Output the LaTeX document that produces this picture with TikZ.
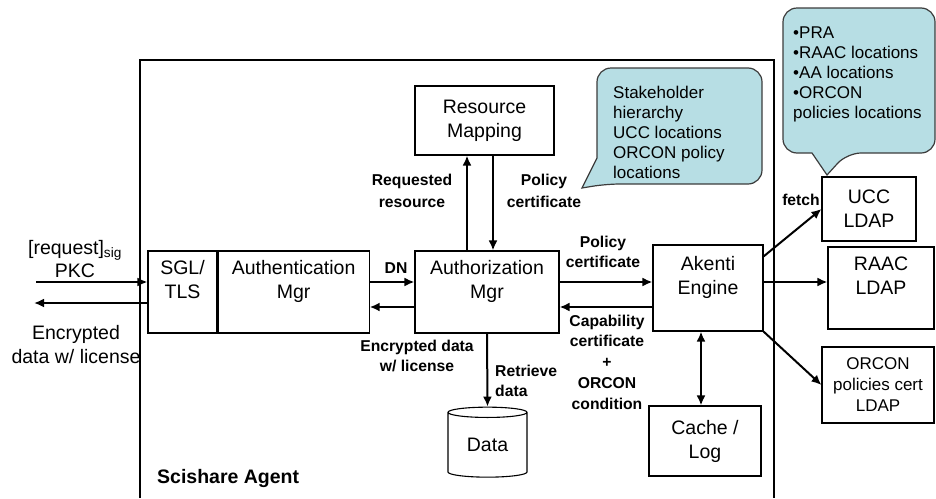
\documentclass[tikz,border=0pt]{standalone}
\usepackage{fontspec}
\setmainfont{Liberation Sans}
\usetikzlibrary{arrows.meta,positioning,shapes.geometric}
\definecolor{notefill}{RGB}{183,222,228}
\definecolor{noteline}{RGB}{60,60,60}
\tikzset{
	>={Latex[length=10pt,width=9pt]},
	frame/.style={
		rectangle, draw, line width=1.1pt,
		align=center, inner sep=0pt,
		font=\fontsize{19.5}{24}\selectfont,
	},
	raised/.style={text depth=25pt},
	line/.style={
		draw, ->, line width=2pt,
	},
	tag/.style={font=\fontsize{15.7}{20}\selectfont\bfseries, align=center, inner sep=0pt},
	big/.style={font=\fontsize{19.5}{23}\selectfont, align=center, inner sep=0pt},
	note/.style={fill=notefill, draw=noteline, line width=1.2pt},
	notetext/.style={font=\fontsize{17}{20}\selectfont, align=left, inner sep=0pt, anchor=north west},
}

\begin{document}
\begin{tikzpicture}[x=1pt,y=-1pt]
\useasboundingbox (0,0) rectangle (936,498);

% agent frame, open at the bottom
\draw[line width=1.3pt] (140,498) |- (774,60) -- (774,498);
\node[font=\fontsize{19.5}{23}\selectfont\bfseries, anchor=west, inner sep=0pt] (agent) at (157,478) {Scishare Agent};

% callouts
\filldraw[note] (582,188) -- (597,158) [rounded corners=14pt] -- (597,68) -- (762,68) -- (762,184) -- (606,184) [sharp corners] -- cycle;
\node[notetext] (stakenote) at (613,86) {Stakeholder\\hierarchy\\UCC locations\\ORCON policy\\locations};
\filldraw[note] (827,175) -- (812,153) [rounded corners=14pt] -- (783,153) -- (783,8) -- (935,8) -- (935,153) -- (847,153) [sharp corners] -- cycle;
\node[notetext] (ldapnote) at (793,27) {•PRA\\•RAAC locations\\•AA locations\\•ORCON\\policies locations};

% boxes
\node[frame, raised, minimum width=69pt, minimum height=82pt] (sgl) at (182.5,292) {SGL/\\TLS};
\node[frame, raised, minimum width=151pt, minimum height=82pt, right=0pt of sgl] (auth) {Authentication\\Mgr};
\node[frame, raised, minimum width=144pt, minimum height=82pt] (authz) at (487,292) {Authorization\\Mgr};
\node[frame, minimum width=139pt, minimum height=69pt] (resmap) at (484.5,120.5) {Resource\\Mapping};
\node[frame, raised, minimum width=110pt, minimum height=86pt] (akenti) at (708,288) {Akenti\\Engine};
\node[frame, minimum width=112pt, minimum height=70pt] (cache) at (705,441) {Cache /\\Log};
\node[frame, minimum width=94pt, minimum height=64pt] (ucc) at (869,209) {UCC\\LDAP};
\node[frame, raised, minimum width=106pt, minimum height=82pt] (raac) at (881,288) {RAAC\\LDAP};
\node[frame, minimum width=112pt, minimum height=76pt, font=\fontsize{17}{21}\selectfont] (orcon) at (878,385) {ORCON\\policies cert\\LDAP};
\node[frame, cylinder, shape border rotate=90, aspect=0.25, minimum width=79pt, minimum height=70pt] (data) at (487.5,445) {Data};

% labels
\node[big] (req) at (75,259) {[request]\textsubscript{sig}\\PKC};
\node[big, font=\fontsize{19.5}{24}\selectfont] (encout) at (76,345) {Encrypted\\data w/ license};
\node[tag] (dn) at (396,268) {DN};
\node[tag] (encin) at (417,356) {Encrypted data\\w/ license};
\node[tag, font=\fontsize{15.7}{22}\selectfont\bfseries] (reqres) at (412,191) {Requested\\resource};
\node[tag, font=\fontsize{15.7}{22}\selectfont\bfseries] (polup) at (544,191) {Policy\\certificate};
\node[tag] (polright) at (603,252) {Policy\\certificate};
\node[tag, font=\fontsize{15.7}{20.7}\selectfont\bfseries] (capab) at (607,362) {Capability\\certificate\\+\\ORCON\\condition};
\node[tag, align=left, anchor=west] (retr) at (495,381) {Retrieve\\data};
\node[tag] (fetch) at (801,200) {fetch};

% connectors
\coordinate (reqL) at (36,282);
\coordinate (encL) at (34,303);
\path[line] (reqL) -- (reqL -| sgl.west);
\path[line] (encL -| sgl.west) -- (encL);
\path[line] ([yshift=10pt]auth.east) -- ([yshift=10pt]authz.west);
\path[line] ([yshift=-15pt]authz.west) -- ([yshift=-15pt]auth.east);
\path[line] ([xshift=-20pt]authz.north) -- ([xshift=-20pt]authz.north |- resmap.south);
\path[line] ([xshift=6pt]authz.north |- resmap.south) -- ([xshift=6pt]authz.north);
\path[line] ([yshift=10pt]authz.east) -- ([yshift=10pt]authz.east -| akenti.west);
\path[line] ([yshift=-15pt]authz.east -| akenti.west) -- ([yshift=-15pt]authz.east);
\path[line] (authz.south) -- (data.north);
\path[line, <->] ([xshift=-7pt]akenti.south) -- ([xshift=-7pt]akenti.south |- cache.north);
\path[line] ([yshift=-12pt]akenti.north east) -- (ucc.west);
\path[line] ([yshift=6pt]akenti.east) -- ([yshift=6pt]akenti.east -| raac.west);
\path[line] (akenti.south east) -- (orcon.west);
\end{tikzpicture}
\end{document}
